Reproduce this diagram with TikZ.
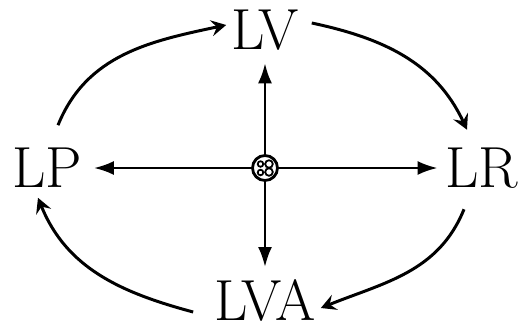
\documentclass[tikz,border=0pt]{standalone}
\usetikzlibrary{arrows.meta}

\begin{document}
\begin{tikzpicture}[
    x=0.02cm,y=0.02cm,
    letter/.style={inner sep=0pt,outer sep=0pt,font=\fontsize{33}{33}\selectfont},
    hubnode/.style={circle,draw,line width=1.6pt,fill=white,minimum size=0.5cm,inner sep=0pt},
    cycle arrow/.style={-{Stealth[length=3mm,width=3.2mm,inset=1.1mm]},line width=1.7pt},
    spoke/.style={-{Latex[length=4mm,width=2.8mm]},line width=1.5pt}
]
\useasboundingbox (0,0) rectangle (525,329);

% Letters
\node[letter] (lv) at (265,299) {LV};
\node[letter] (lp) at (47,161) {LP};
\node[letter] (lr) at (482,161) {LR};
\node[letter] (lva) at (265,29) {LVA};

% Hub
\node[hubnode] (hub) at (265,161) {};
\draw[line width=1pt] (hub) ++(-4.5,4) circle (2.8)
                      (hub) ++(4,4) circle (3.8)
                      (hub) ++(-4.5,-4.5) circle (2.8)
                      (hub) ++(4,-4) circle (3.8);

% Spokes
\draw[spoke] (hub) -- ([shift={(0,-13)}]lv.south);
\draw[spoke] (hub) -- ([shift={(0,12)}]lva.north);
\draw[spoke] (hub) -- ([shift={(12,0)}]lp.east);
\draw[spoke] (hub) -- ([shift={(-8,0)}]lr.west);

% Cycle
\draw[cycle arrow] ([shift={(11,23)}]lp.north) to[out=68,in=192] ([shift={(-5,5)}]lv.west);
\draw[cycle arrow] ([shift={(13,7)}]lv.east) to[out=-12,in=115] ([shift={(-15,18)}]lr.north);
\draw[cycle arrow] ([shift={(-18,-21)}]lr.south) to[out=-112,in=22] ([shift={(5,-8)}]lva.east);
\draw[cycle arrow] ([shift={(-21,-12)}]lva.west) to[out=165,in=-68] ([shift={(-9,-10)}]lp.south);

\end{tikzpicture}
\end{document}
